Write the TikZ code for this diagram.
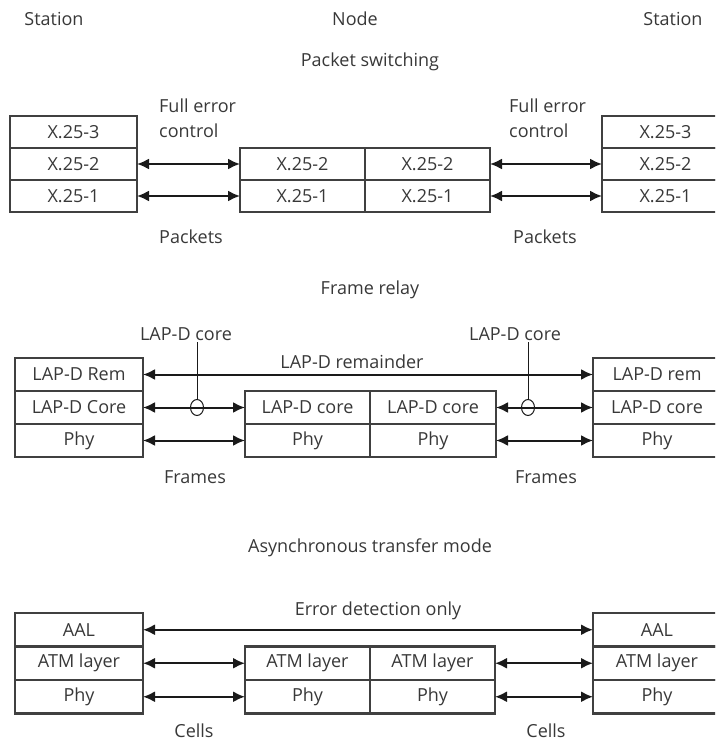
\documentclass[tikz,border=0pt]{standalone}
\usepackage{fontspec}
\setmainfont{Open Sans}
\usetikzlibrary{arrows.meta,positioning,shapes.geometric}
\definecolor{ink}{HTML}{383838}
\definecolor{frame}{HTML}{404040}
\definecolor{wire}{HTML}{1A1A1A}
\tikzset{
  every node/.style={font=\fontsize{18}{25}\selectfont,text=ink},
  layer/.style={draw=frame,line width=2.6pt,minimum width=128pt,minimum height=33pt,
                inner sep=0pt,outer sep=0pt},
  pscell/.style={layer,minimum width=127pt,minimum height=32pt},
  atmcell/.style={layer,minimum height=33.5pt},
  ar/.style={{Latex[length=12pt,width=11pt]}-{Latex[length=12pt,width=11pt]},draw=wire,line width=2pt},
  tap/.style={draw=wire,line width=0.9pt},
  probe/.style={ellipse,draw=wire,line width=1pt,minimum width=13pt,minimum height=16pt,inner sep=0pt},
  lab/.style={inner sep=1pt},
  heading/.style={inner sep=1pt},
}

\begin{document}
\begin{tikzpicture}[x=1pt,y=-1pt]
\useasboundingbox (0,0) rectangle (715,741);
\clip (0,0) rectangle (715,741);

% column headings
\node[heading] (st-left) at (54,19) {Station};
\node[heading] (node-top) at (355,19) {Node};
\node[heading] (st-right) at (673,19) {Station};

% --- packet switching
\node[heading] (ps-title) at (370,62) {Packet switching};
\node[pscell] (ps-l3) at (73.5,132) {X.25-3};
\node[pscell,below=0pt of ps-l3] (ps-l2) {X.25-2};
\node[pscell,below=0pt of ps-l2] (ps-l1) {X.25-1};
\node[pscell,minimum width=125pt] (ps-a2) at (302.5,164) {X.25-2};
\node[pscell,minimum width=125pt,right=0pt of ps-a2] (ps-b2) {X.25-2};
\node[pscell,minimum width=125pt,below=0pt of ps-a2] (ps-a1) {X.25-1};
\node[pscell,minimum width=125pt,below=0pt of ps-b2] (ps-b1) {X.25-1};
\node[pscell] (ps-r3) at (665.5,132) {X.25-3};
\node[pscell,below=0pt of ps-r3] (ps-r2) {X.25-2};
\node[pscell,below=0pt of ps-r2] (ps-r1) {X.25-1};
\draw[ar] (ps-l2) -- (ps-a2);
\draw[ar] (ps-l1) -- (ps-a1);
\draw[ar] (ps-b2) -- (ps-r2);
\draw[ar] (ps-b1) -- (ps-r1);
\node[lab,align=left,anchor=west] (ps-fec-l) at (158,118) {Full error\\control};
\node[lab,align=left,anchor=west] (ps-fec-r) at (508,118) {Full error\\control};
\node[lab,anchor=west] (ps-pk-l) at (158,237) {Packets};
\node[lab,anchor=west] (ps-pk-r) at (512,237) {Packets};

% --- frame relay
\node[heading] (fr-title) at (370,290) {Frame relay};
\node[layer] (fr-l3) at (79,374.5) {LAP-D Rem};
\node[layer,below=0pt of fr-l3] (fr-l2) {LAP-D Core};
\node[layer,below=0pt of fr-l2] (fr-l1) {Phy};
\node[layer,minimum width=125pt] (fr-a2) at (307.5,407.5) {LAP-D core};
\node[layer,minimum width=126pt,right=0pt of fr-a2] (fr-b2) {LAP-D core};
\node[layer,minimum width=125pt,below=0pt of fr-a2] (fr-a1) {Phy};
\node[layer,minimum width=126pt,below=0pt of fr-b2] (fr-b1) {Phy};
\node[layer] (fr-r3) at (657,374.5) {LAP-D rem};
\node[layer,below=0pt of fr-r3] (fr-r2) {LAP-D core};
\node[layer,below=0pt of fr-r2] (fr-r1) {Phy};
\draw[ar] (fr-l3) -- (fr-r3);
\draw[ar] (fr-l2) -- (fr-a2);
\draw[ar] (fr-l1) -- (fr-a1);
\draw[ar] (fr-b2) -- (fr-r2);
\draw[ar] (fr-b1) -- (fr-r1);
\node[lab] (fr-rem) at (352,362) {LAP-D remainder};
\node[probe] (fr-tap-l) at (197,407.5) {};
\node[probe] (fr-tap-r) at (528,407.5) {};
\node[lab] (fr-core-l) at (186,334) {LAP-D core};
\node[lab] (fr-core-r) at (515,334) {LAP-D core};
\draw[tap] (fr-tap-l.north) -- (fr-tap-l.north |- fr-core-l.south);
\draw[tap] (fr-tap-r.north) -- (fr-tap-r.north |- fr-core-r.south);
\node[lab] (fr-fm-l) at (195,477) {Frames};
\node[lab] (fr-fm-r) at (546,477) {Frames};

% --- asynchronous transfer mode
\node[heading] (atm-title) at (370,548) {Asynchronous transfer mode};
\node[atmcell] (atm-l3) at (79,629.75) {AAL};
\node[atmcell,below=0pt of atm-l3] (atm-l2) {ATM layer};
\node[atmcell,below=0pt of atm-l2] (atm-l1) {Phy};
\node[atmcell,minimum width=125pt] (atm-a2) at (307.5,663.25) {ATM layer};
\node[atmcell,minimum width=125pt,right=0pt of atm-a2] (atm-b2) {ATM layer};
\node[atmcell,minimum width=125pt,below=0pt of atm-a2] (atm-a1) {Phy};
\node[atmcell,minimum width=125pt,below=0pt of atm-b2] (atm-b1) {Phy};
\node[atmcell] (atm-r3) at (657,629.75) {AAL};
\node[atmcell,below=0pt of atm-r3] (atm-r2) {ATM layer};
\node[atmcell,below=0pt of atm-r2] (atm-r1) {Phy};
\draw[ar] (atm-l3) -- (atm-r3);
\draw[ar] (atm-l2) -- (atm-a2);
\draw[ar] (atm-l1) -- (atm-a1);
\draw[ar] (atm-b2) -- (atm-r2);
\draw[ar] (atm-b1) -- (atm-r1);
\node[lab] (atm-err) at (378,611) {Error detection only};
\node[lab] (atm-cl-l) at (194,731) {Cells};
\node[lab] (atm-cl-r) at (546,731) {Cells};
\end{tikzpicture}
\end{document}
